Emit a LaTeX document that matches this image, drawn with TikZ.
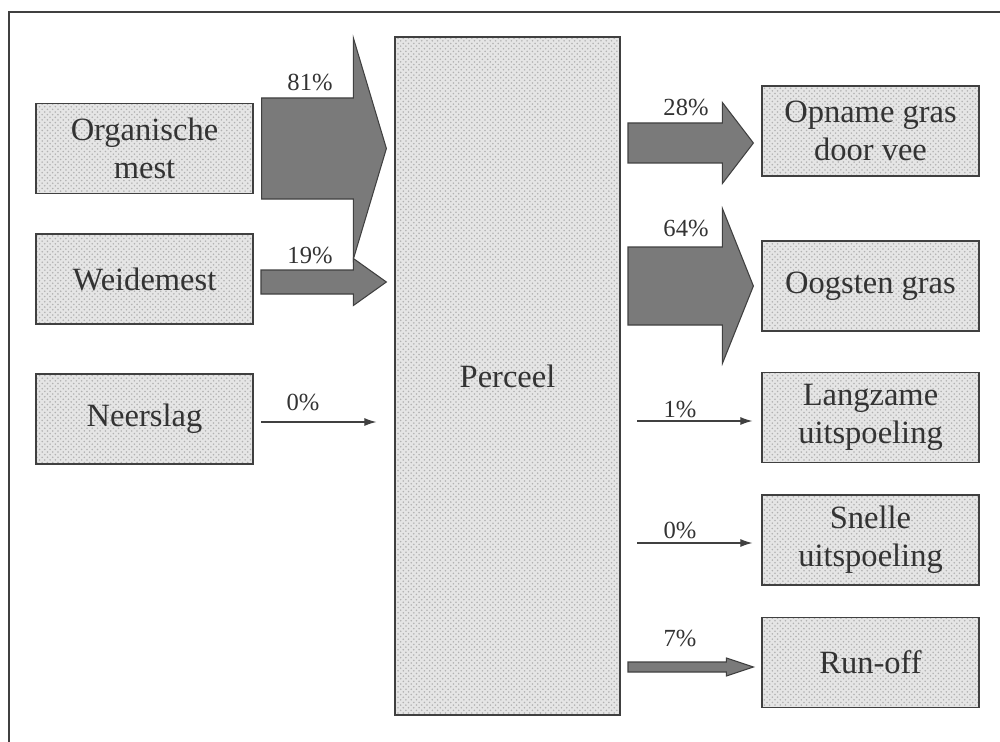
\documentclass[tikz,border=0pt]{standalone}
\usepackage{fontspec}
\setmainfont{Liberation Serif}
\usepackage{tikz}
\usetikzlibrary{calc}
\usetikzlibrary{arrows.meta}
\usetikzlibrary{patterns}
\usetikzlibrary{positioning}
\definecolor{boxgrey}{rgb}{0.9,0.9,0.9}
\definecolor{flowgrey}{rgb}{0.48,0.48,0.48}
\definecolor{linegrey}{rgb}{0.25,0.25,0.25}
\definecolor{textgrey}{rgb}{0.2,0.2,0.2}
\tikzset{%
  pool/.style={rectangle, draw=linegrey, preaction={fill=boxgrey}, pattern=crosshatch dots, pattern color=gray!60, line width=0.7pt, minimum width=4.34cm, minimum height=1.8cm, inner sep=0pt, align=center, text=textgrey, font=\fontsize{18.5}{21.5}\selectfont},
  field/.style={pool, minimum width=4.5cm, minimum height=13.56cm},
  share/.style={text=textgrey, font=\fontsize{14}{16}\selectfont, anchor=base, inner sep=0pt},
  flow/.style={draw=linegrey, fill=flowgrey, line width=0.6pt, line join=miter},
  trickle/.style={draw=linegrey, line width=0.6pt, -{Latex[length=2.4mm,width=1.6mm]}}
}
% fat flow arrow: start, end, half shaft, half head, head length
\newcommand{\fatflow}[5]{%
  \draw[flow] ($(#1)+(0,#3)$) -- ($(#2)+(-#5,#3)$) -- ($(#2)+(-#5,#4)$) -- (#2)
    -- ($(#2)+(-#5,-#4)$) -- ($(#2)+(-#5,-#3)$) -- ($(#1)+(0,-#3)$) -- cycle;}

\begin{document}
\begin{tikzpicture}
    \useasboundingbox (0,0) rectangle (20,-14.84);
    \draw[linegrey, line width=1pt] (0.18,-14.84) -- (0.18,-0.24) -- (20,-0.24);

    \node [pool]                                    (om)   at (2.89,-2.97) {Organische\\mest};
    \node [pool, below of=om, node distance=2.61cm]  (wm)   {Weidemest};
    \node [pool, below of=wm, node distance=2.8cm]   (ns)   {Neerslag};
    \node [field]                                   (pc)   at (10.15,-7.52) {Perceel};
    \node [pool]                                    (opn)  at (17.41,-2.62) {Opname gras\\door vee};
    \node [pool, below of=opn, node distance=3.1cm]  (oog)  {Oogsten gras};
    \node [pool, below of=oog, node distance=2.63cm] (lang) {Langzame\\uitspoeling};
    \node [pool, below of=lang, node distance=2.45cm] (snel) {Snelle\\uitspoeling};
    \node [pool, below of=snel, node distance=2.45cm] (run)  {Run-off};

    % inputs
    \coordinate (in1) at ($(om.east)+(0.16,0)$);
    \coordinate (in2) at (5.22,-5.64);
    \coordinate (in3) at (5.22,-8.44);
    \fatflow{in1}{$(pc.west |- in1)+(-0.16,0)$}{1.01}{2.21}{0.66}
    \fatflow{in2}{$(pc.west |- in2)+(-0.16,0)$}{0.24}{0.47}{0.66}
    \draw [trickle] (in3) -- ($(pc.west |- in3)+(-0.36,0)$);

    % outputs
    \coordinate (out1) at (12.56,-2.86);
    \coordinate (out2) at (12.56,-5.72);
    \coordinate (out3) at (12.74,-8.42);
    \coordinate (out4) at (12.74,-10.86);
    \coordinate (out5) at (12.56,-13.34);
    \fatflow{out1}{$(opn.west |- out1)+(-0.16,0)$}{0.40}{0.81}{0.62}
    \fatflow{out2}{$(oog.west |- out2)+(-0.16,0)$}{0.78}{1.55}{0.62}
    \draw [trickle] (out3) -- ($(lang.west |- out3)+(-0.18,0)$);
    \draw [trickle] (out4) -- ($(snel.west |- out4)+(-0.18,0)$);
    \fatflow{out5}{$(run.west |- out5)+(-0.16,0)$}{0.10}{0.18}{0.54}

    \node [share] (p81) at (6.2,-1.82)   {81\%};
    \node [share] (p19) at (6.2,-5.26)   {19\%};
    \node [share] (p0a) at (6.06,-8.2)   {0\%};
    \node [share] (p28) at (13.72,-2.30) {28\%};
    \node [share] (p64) at (13.72,-4.72) {64\%};
    \node [share] (p1)  at (13.6,-8.34)  {1\%};
    \node [share] (p0b) at (13.6,-10.76) {0\%};
    \node [share] (p7)  at (13.6,-12.92) {7\%};
\end{tikzpicture}
\end{document}
